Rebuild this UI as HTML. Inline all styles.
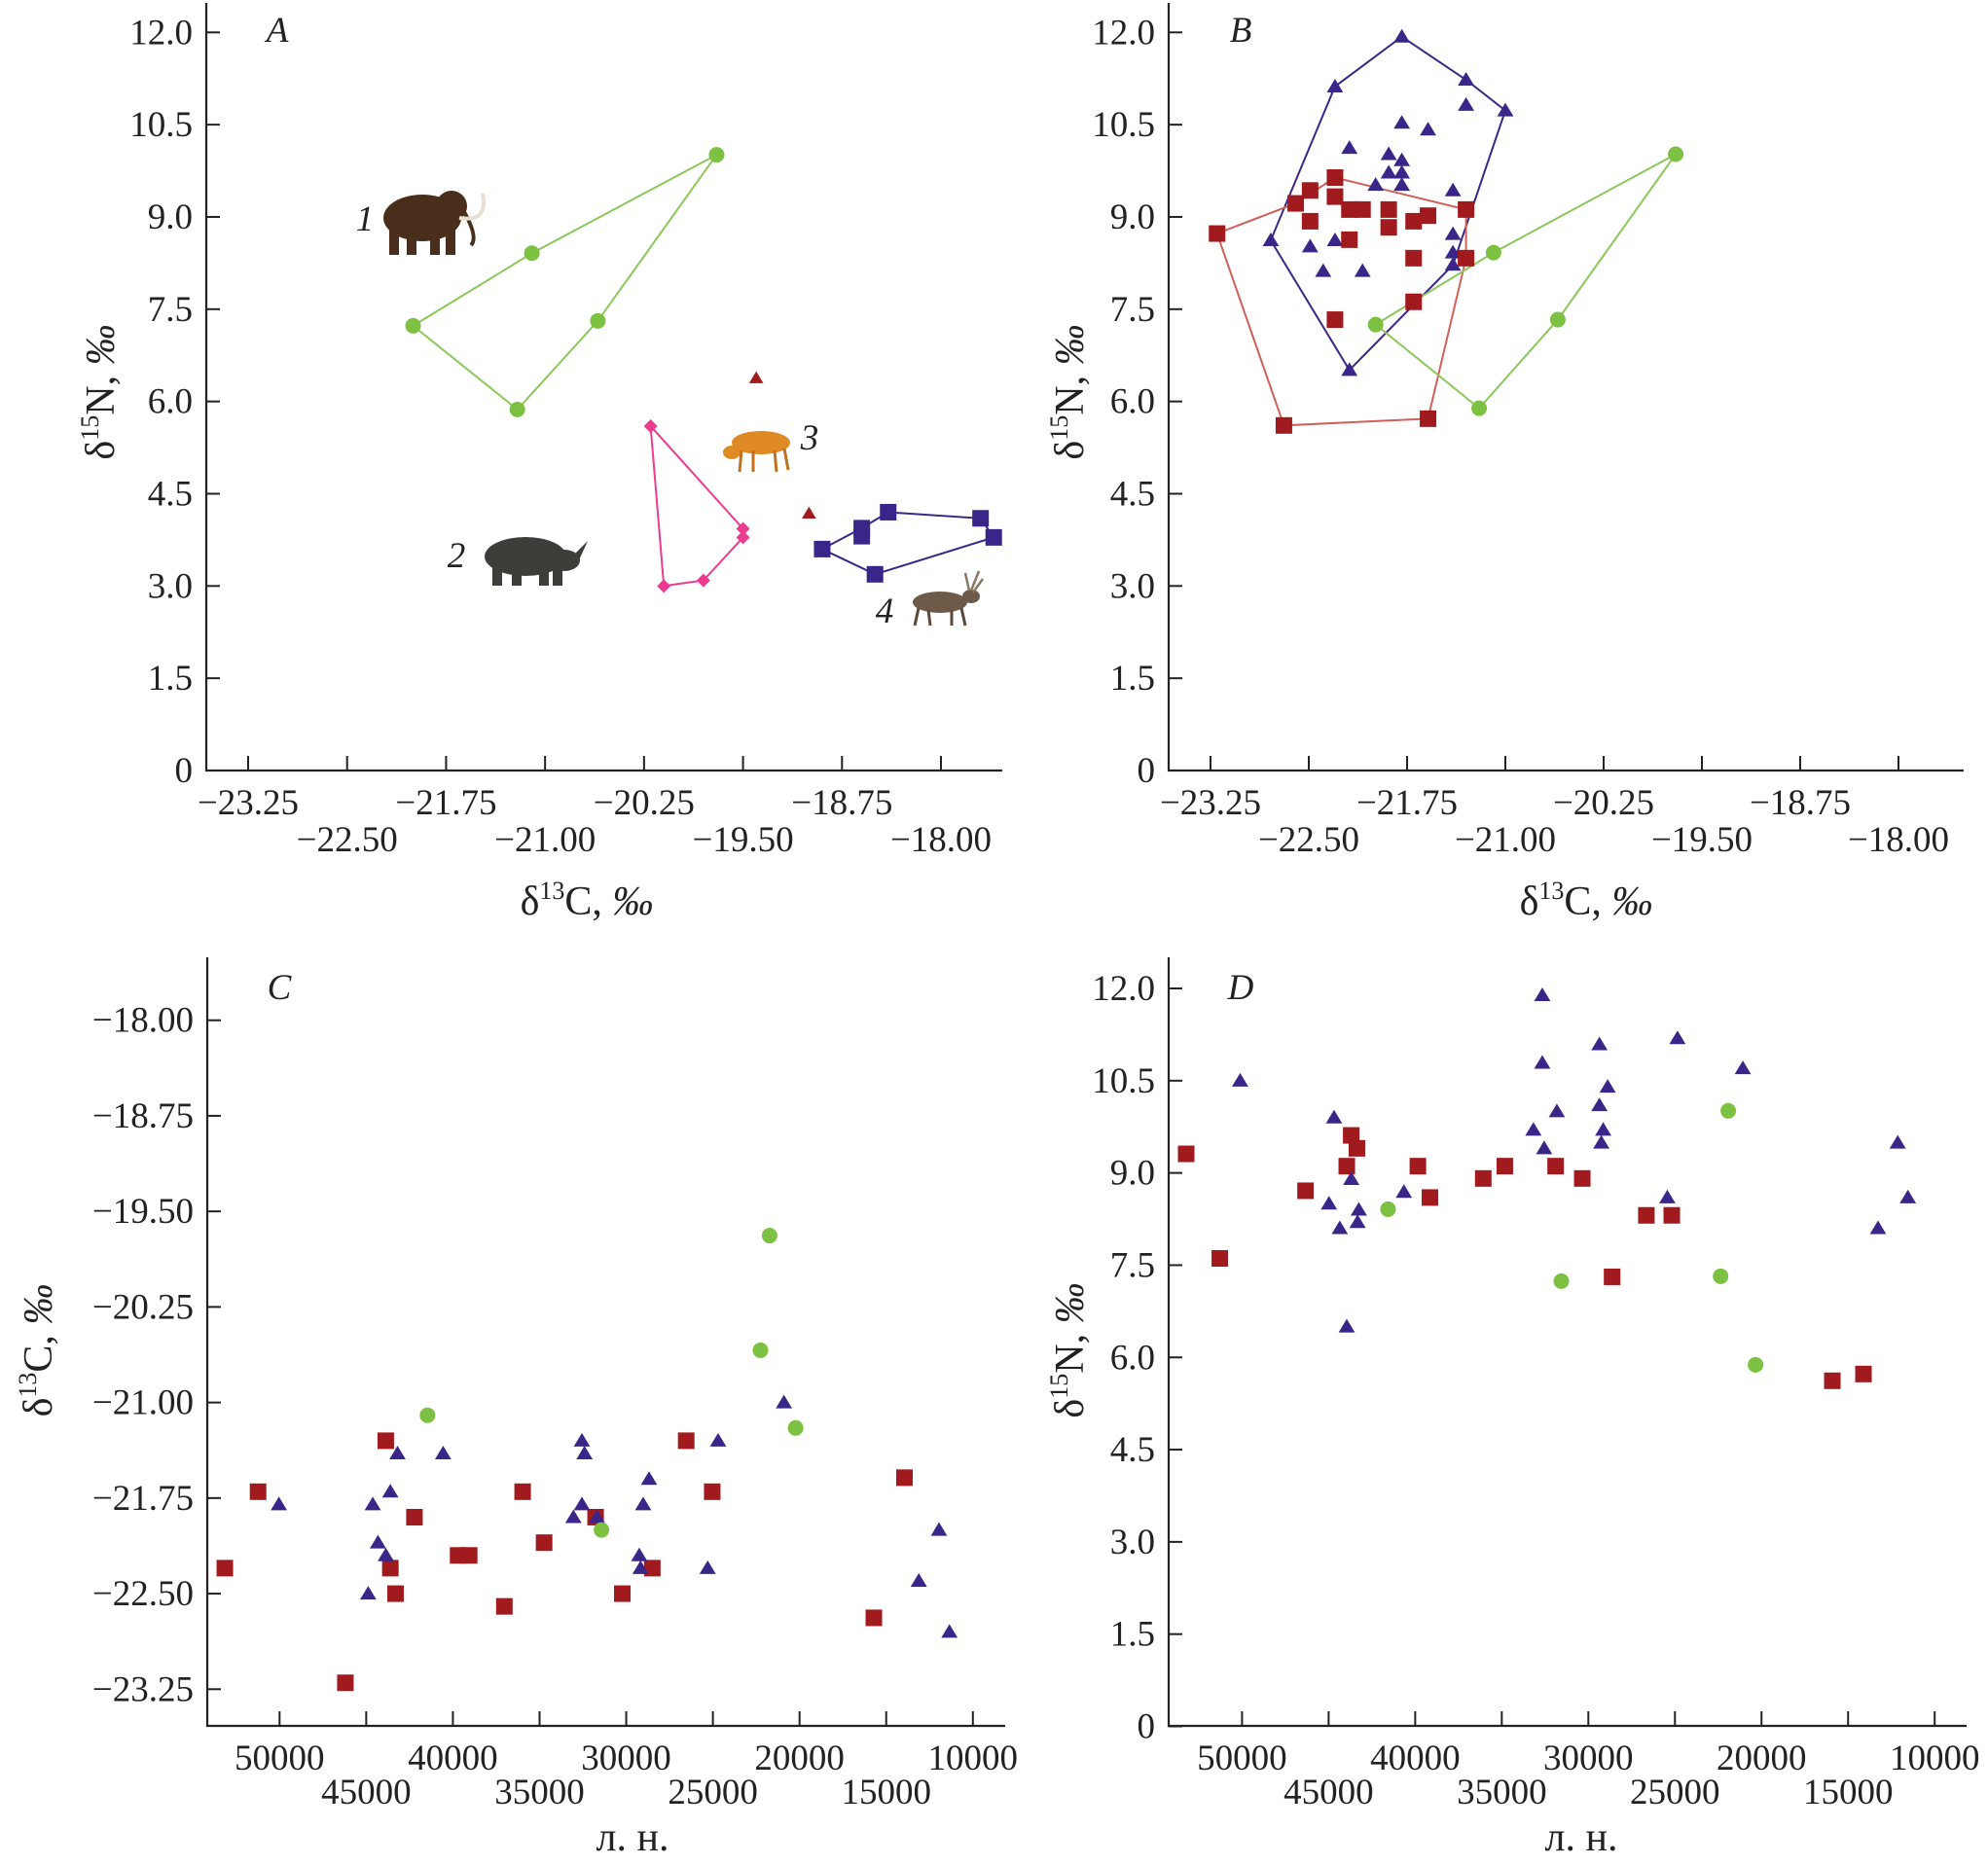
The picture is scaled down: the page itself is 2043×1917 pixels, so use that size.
<!DOCTYPE html>
<html><head><meta charset="utf-8"><style>
html,body{margin:0;padding:0;background:#fff}
svg{display:block}
text{font-family:"Liberation Serif",serif;fill:#222}
</style></head><body>
<svg id="chart" width="2043" height="1917" viewBox="0 0 2043 1917" xmlns="http://www.w3.org/2000/svg"></svg>
<script>
// ---- Panel A data ----
const aMammothC=[-22.00,-21.10,-19.70,-20.60,-21.21];
const aMammothN=[7.23,8.41,10.01,7.31,5.87];
const aRhinoC=[-20.20,-19.50,-19.50,-19.80,-20.10];
const aRhinoN=[5.60,3.93,3.79,3.09,3.00];
const aTriC=[-19.40,-19.00];
const aTriN=[6.38,4.18];
const aReinC=[-18.90,-18.60,-18.60,-18.40,-17.70,-17.60,-18.50];
const aReinN=[3.60,3.94,3.81,4.20,4.10,3.79,3.19];
const aReinHull=[0,1,3,4,5,6];
// ---- Panel B data ----
const bTriC=[-21.79,-22.30,-21.30,-21.30,-21.00,-21.79,-21.59,-22.19,-21.89,-21.79,-21.89,-21.79,-21.99,-21.79,-21.40,-22.79,-22.30,-22.49,-21.40,-21.40,-21.40,-22.39,-22.09,-22.19];
const bTriN=[11.93,11.12,11.23,10.82,10.73,10.53,10.42,10.12,10.02,9.92,9.72,9.72,9.52,9.52,9.43,8.62,8.62,8.52,8.72,8.42,8.22,8.12,8.12,6.51];
const bTriHull=[0,2,4,20,23,15,1];
const bSqC=[-23.20,-22.69,-21.59,-21.30,-21.30,-22.30,-22.60,-22.49,-22.49,-22.30,-22.19,-22.09,-22.19,-21.89,-21.89,-21.70,-21.59,-21.70,-21.70,-22.30];
const bSqN=[8.73,5.61,5.72,8.33,9.12,9.64,9.22,9.43,8.93,9.33,9.12,9.12,8.63,9.12,8.83,8.93,9.02,8.33,7.62,7.33];
const bSqHull=[0,6,5,4,3,2,1];
const bCircC=[-21.99,-21.09,-19.70,-20.60,-21.20];
const bCircN=[7.25,8.42,10.02,7.33,5.89];
// ---- Panel C data ----
const cCircT=[41466,21729,22256,20226,31429];
const cCircC=[-21.10,-19.69,-20.59,-21.20,-22.00];
const cSqT=[53158,51241,46203,43872,43609,43308,42218,39699,39060,37030,35977,34737,31767,30226,28496,26541,25038,15714,13947];
const cSqC=[-22.30,-21.70,-23.20,-21.30,-22.30,-22.50,-21.90,-22.20,-22.20,-22.60,-21.70,-22.10,-21.90,-22.50,-22.30,-21.30,-21.70,-22.69,-21.59];
const cTriT=[50038,44887,44624,44323,43872,43609,43195,40564,33045,32556,32406,32556,31692,29248,29173,29023,28684,25301,24699,20902,13120,11955,11353];
const cTriC=[-21.80,-22.50,-21.80,-22.10,-22.20,-21.70,-21.40,-21.40,-21.90,-21.30,-21.40,-21.80,-21.90,-22.20,-22.30,-21.80,-21.60,-22.30,-21.30,-21.00,-22.40,-22.00,-22.80];
// ---- Panel D data ----
const dCircT=[41569,31562,21921,22361,20344];
const dCircN=[8.41,7.24,10.01,7.32,5.88];
const dSqT=[53226,51283,46334,43952,43695,43365,39846,39150,36070,34824,31891,30352,28629,26650,25183,15909,14113];
const dSqN=[9.31,7.61,8.71,9.11,9.61,9.40,9.11,8.60,8.91,9.11,9.11,8.91,7.31,8.31,8.31,5.62,5.73];
const dTriT=[50110,44685,44978,44355,43695,43255,43328,43952,40652,32661,32661,33174,32551,31818,29362,29362,28886,29142,29252,25440,24853,21078,13270,12134,11547];
const dTriN=[10.50,9.90,8.50,8.10,8.90,8.40,8.20,6.50,8.69,11.89,10.79,9.70,9.40,10.00,11.09,10.10,10.40,9.70,9.49,8.60,11.19,10.70,8.10,9.49,8.60];
// ---- tick labels ----
const cTicksX=[-23.25,-22.50,-21.75,-21.00,-20.25,-19.50,-18.75,-18.00];
const nTicks=[0,1.5,3.0,4.5,6.0,7.5,9.0,10.5,12.0];
const cTicksY=[-18.00,-18.75,-19.50,-20.25,-21.00,-21.75,-22.50,-23.25];
const ageTicks=[50000,45000,40000,35000,30000,25000,20000,15000,10000];

const GREEN='#7cc142',RED='#a11a1d',BLUE='#3a2689',PINK='#ec3b8f';
const NS='http://www.w3.org/2000/svg';
const svg=document.getElementById('chart');
function el(tag,attrs,parent){const e=document.createElementNS(NS,tag);for(const k in attrs)e.setAttribute(k,attrs[k]);(parent||svg).appendChild(e);return e;}
function fmtC(v){return '\u2212'+Math.abs(v).toFixed(2);}
function fmtN(v){return v===0?'0':v.toFixed(1);}

function makePanel(p){
  const g=el('g',{});
  
  
  const sx=v=>p.x0+(v-p.vx0)*(p.x1-p.x0)/(p.vx1-p.vx0);
  const sy=v=>p.y0+(v-p.vy0)*(p.y1-p.y0)/(p.vy1-p.vy0);
  const ax=el('path',{d:`M${p.left},${p.top} V${p.bottom} H${p.right}`,fill:'none',stroke:'#222','stroke-width':2.2},g);
  
  
  p.yticks.forEach(v=>{
    const y=sy(v);
    const t=el('line',{x1:p.left,x2:p.left+14,y1:y,y2:y,stroke:'#222','stroke-width':2},g);
    
    
    const l=el('text',{x:p.left-14,y:y+12,'text-anchor':'end','font-size':37},g);
    l.textContent=p.yfmt(v);
    
    
  });
  p.xticks.forEach((v,i)=>{
    const x=sx(v);
    const t=el('line',{x1:x,x2:x,y1:p.bottom,y2:p.bottom-15,stroke:'#222','stroke-width':2},g);
    
    
    const l=el('text',{x:x,y:(i%2===0?p.row1:p.row2)+12,'text-anchor':'middle','font-size':37},g);
    l.textContent=p.xfmt(v);
    
    
  });
  const xt=el('text',{x:p.xtx,y:p.xty+13,'text-anchor':'middle','font-size':42},g);
  
  
  xt.innerHTML=p.xtitle;
  const yt=el('text',{x:0,y:0,'text-anchor':'middle','font-size':42,transform:`translate(${p.ytx+13},${p.yty}) rotate(-90)`},g);
  
  
  yt.innerHTML=p.ytitle;
  const lt=el('text',{x:p.lx,y:p.ly+12,'text-anchor':'middle','font-size':37,'font-style':'italic'},g);
  lt.textContent=p.letter;
  
  
  p.sx=sx;p.sy=sy;p.g=g;
  return p;
}
function hull(p,xs,ys,idx,color,name){
  const pts=idx.map(i=>p.sx(xs[i]).toFixed(1)+','+p.sy(ys[i]).toFixed(1)).join(' ');
  const h=el('polygon',{points:pts,fill:'none',stroke:color,'stroke-width':2},p.g);
  
  
}
function pts(p,xs,ys,shape,color,name,size){
  xs.forEach((xv,i)=>{
    const x=p.sx(xv),y=p.sy(ys[i]);let m;
    if(shape==='circle')m=el('circle',{cx:x,cy:y,r:size,fill:color},p.g);
    else if(shape==='square')m=el('rect',{x:x-size,y:y-size,width:2*size,height:2*size,fill:color},p.g);
    else if(shape==='diamond')m=el('polygon',{points:`${x},${y-size} ${x+size},${y} ${x},${y+size} ${x-size},${y}`,fill:color},p.g);
    else m=el('polygon',{points:`${x},${y-size} ${x+size*1.05},${y+size*0.75} ${x-size*1.05},${y+size*0.75}`,fill:color},p.g);
    
    
  });
}
const NT='δ<tspan font-size="26" dy="-16">15</tspan><tspan dy="16">N, </tspan><tspan font-style="italic">‰</tspan>';
const CT='δ<tspan font-size="26" dy="-16">13</tspan><tspan dy="16">C, </tspan><tspan font-style="italic">‰</tspan>';

const A=makePanel({name:'panel-a',left:212,top:3,bottom:792,right:1030,x0:255,x1:967,vx0:-23.25,vx1:-18,y0:792,y1:33.3,vy0:0,vy1:12,
  xticks:cTicksX,yticks:nTicks,xfmt:fmtC,yfmt:fmtN,row1:825,row2:863,xtx:603,xty:927,ytx:104,yty:403,xtitle:CT,ytitle:NT,letter:'A',lx:285,ly:31});
const B=makePanel({name:'panel-b',left:1201,top:3,bottom:792,right:2018,x0:1244,x1:1951,vx0:-23.25,vx1:-18,y0:792,y1:33.3,vy0:0,vy1:12,
  xticks:cTicksX,yticks:nTicks,xfmt:fmtC,yfmt:fmtN,row1:825,row2:863,xtx:1630,xty:927,ytx:1100,yty:403,xtitle:CT,ytitle:NT,letter:'B',lx:1275,ly:31});
const C=makePanel({name:'panel-c',left:213,top:984,bottom:1774,right:1033,x0:287.3,x1:999.8,vx0:50000,vx1:10000,y0:1048.7,y1:1736.3,vy0:-18,vy1:-23.25,
  xticks:ageTicks,yticks:cTicksY,xfmt:v=>String(v),yfmt:fmtC,row1:1807,row2:1842,xtx:650,xty:1889,ytx:40,yty:1388,xtitle:'л. н.',ytitle:CT,letter:'C',lx:287,ly:1015});
const D=makePanel({name:'panel-d',left:1201,top:984,bottom:1774,right:2021,x0:1276.4,x1:1988.2,vx0:50000,vx1:10000,y0:1774.5,y1:1016,vy0:0,vy1:12,
  xticks:ageTicks,yticks:nTicks,xfmt:v=>String(v),yfmt:fmtN,row1:1807,row2:1842,xtx:1625,xty:1889,ytx:1100,yty:1388,xtitle:'л. н.',ytitle:NT,letter:'D',lx:1275,ly:1015});

// Panel A series
hull(A,aMammothC,aMammothN,[0,1,2,3,4],'#8cc75a','mammoth-hull');
hull(A,aRhinoC,aRhinoN,[0,1,2,3,4],PINK,'rhino-hull');
hull(A,aReinC,aReinN,aReinHull,BLUE,'reindeer-hull');
pts(A,aMammothC,aMammothN,'circle',GREEN,'mammoth-point',8);
pts(A,aRhinoC,aRhinoN,'diamond',PINK,'rhino-point',7);
pts(A,aTriC,aTriN,'tri',RED,'antelope-point',7);
pts(A,aReinC,aReinN,'square',BLUE,'reindeer-point',8.5);
// Panel B series
hull(B,bTriC,bTriN,bTriHull,BLUE,'triangle-hull');
hull(B,bSqC,bSqN,bSqHull,'#d0605a','square-hull');
hull(B,bCircC,bCircN,[0,1,2,3,4],'#8cc75a','circle-hull');
pts(B,bTriC,bTriN,'tri',BLUE,'triangle-point',8);
pts(B,bSqC,bSqN,'square',RED,'square-point',8.5);
pts(B,bCircC,bCircN,'circle',GREEN,'circle-point',8);
// Panel C
pts(C,cSqT,cSqC,'square',RED,'square-point',8.5);
pts(C,cTriT,cTriC,'tri',BLUE,'triangle-point',8);
pts(C,cCircT,cCircC,'circle',GREEN,'circle-point',8);
// Panel D
pts(D,dSqT,dSqN,'square',RED,'square-point',8.5);
pts(D,dTriT,dTriN,'tri',BLUE,'triangle-point',8);
pts(D,dCircT,dCircN,'circle',GREEN,'circle-point',8);

// Animal illustrations (simple silhouettes) and labels in panel A
function animal(name,tx,ty,color,parts){
  const g=el('g',{transform:`translate(${tx},${ty})`},A.g);
  
  
  parts.forEach(pp=>el(pp[0],Object.assign({fill:color},pp[1]),g));
}
animal('mammoth-illustration',392,194,'#4a2e1c',[
 ['ellipse',{cx:42,cy:30,rx:40,ry:24}],['ellipse',{cx:72,cy:18,rx:16,ry:16}],
 ['rect',{x:8,y:40,width:10,height:28}],['rect',{x:26,y:42,width:10,height:26}],['rect',{x:50,y:42,width:10,height:26}],['rect',{x:66,y:40,width:10,height:28}],
 ['path',{d:'M84,22 Q100,50 92,58',fill:'none',stroke:'#4a2e1c','stroke-width':4}],
 ['path',{d:'M80,30 Q110,35 104,5',fill:'none',stroke:'#e8e0d0','stroke-width':4}]]);
animal('rhino-illustration',492,550,'#3d3d3a',[
 ['ellipse',{cx:48,cy:22,rx:42,ry:20}],['ellipse',{cx:88,cy:26,rx:16,ry:11}],
 ['path',{d:'M96,22 L112,6 L102,28 Z'}],
 ['rect',{x:14,y:32,width:10,height:20}],['rect',{x:34,y:34,width:10,height:18}],['rect',{x:62,y:34,width:10,height:18}],['rect',{x:76,y:32,width:10,height:20}]]);
animal('antelope-illustration',740,435,'#e08a25',[
 ['ellipse',{cx:42,cy:20,rx:30,ry:12}],['ellipse',{cx:12,cy:30,rx:9,ry:7}],
 ['line',{x1:22,y1:28,x2:20,y2:50,stroke:'#c07020','stroke-width':3}],['line',{x1:34,y1:28,x2:34,y2:50,stroke:'#c07020','stroke-width':3}],
 ['line',{x1:56,y1:28,x2:58,y2:50,stroke:'#c07020','stroke-width':3}],['line',{x1:66,y1:26,x2:70,y2:48,stroke:'#c07020','stroke-width':3}]]);
animal('reindeer-illustration',934,585,'#6e5a48',[
 ['ellipse',{cx:32,cy:34,rx:28,ry:11}],['ellipse',{cx:64,cy:28,rx:9,ry:7}],
 ['path',{d:'M62,22 L58,4 M64,22 L72,2 M66,24 L76,10',stroke:'#8a7866','stroke-width':2.5,fill:'none'}],
 ['line',{x1:10,y1:40,x2:6,y2:58,stroke:'#5a4838','stroke-width':3}],['line',{x1:20,y1:42,x2:22,y2:58,stroke:'#5a4838','stroke-width':3}],
 ['line',{x1:44,y1:42,x2:44,y2:58,stroke:'#5a4838','stroke-width':3}],['line',{x1:54,y1:40,x2:58,y2:58,stroke:'#5a4838','stroke-width':3}]]);
[['1',375,225],['2',469,571],['3',832,450],['4',909,628]].forEach(a=>{
  const t=el('text',{x:a[1],y:a[2]+12,'text-anchor':'middle','font-size':37,'font-style':'italic'},A.g);
  t.textContent=a[0];
  
  
});
</script>
</body></html>
